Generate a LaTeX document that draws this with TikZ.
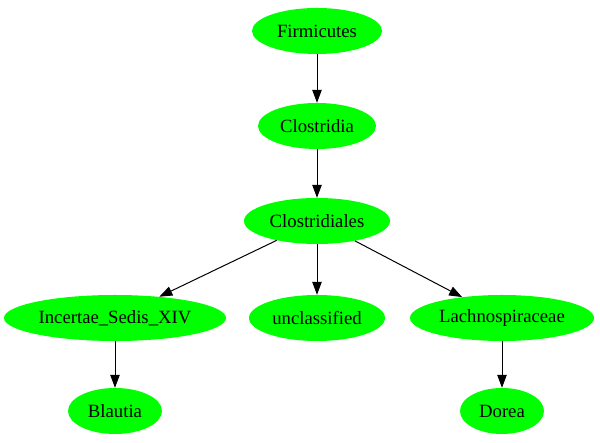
\documentclass[tikz,border=0pt]{standalone}
\usepackage{fontspec}
\setmainfont{Liberation Serif}
\usetikzlibrary{shapes.geometric,arrows.meta}
\begin{document}
\begin{tikzpicture}[x=1pt,y=1pt,
  taxon/.style={ellipse,fill={rgb,255:red,0;green,255;blue,0},draw=none,inner sep=0pt,minimum height=46pt,font=\fontsize{18.7pt}{21pt}\selectfont},
  edge/.style={draw=black,line width=1pt,-{Triangle[length=13pt,width=9.5pt]}}]
\useasboundingbox (0,0) rectangle (600,443);
\node[taxon,minimum width=130pt] (firm) at (317,412) {Firmicutes};
\node[taxon,minimum width=118pt] (clos) at (317,317) {Clostridia};
\node[taxon,minimum width=146pt] (closl) at (317,222) {Clostridiales};
\node[taxon,minimum width=222pt] (ince) at (115,125) {Incertae\_Sedis\_XIV};
\node[taxon,minimum width=136pt] (uncl) at (317,125) {unclassified};
\node[taxon,minimum width=184pt] (lach) at (502,125) {Lachnospiraceae};
\node[taxon,minimum width=94pt] (blau) at (115,32) {Blautia};
\node[taxon,minimum width=84pt] (dore) at (502,32) {Dorea};
\draw[edge] (firm) -- (clos);
\draw[edge] (clos) -- (closl);
\draw[edge] (closl) -- (ince);
\draw[edge] (closl) -- (uncl);
\draw[edge] (closl) -- (lach);
\draw[edge] (ince) -- (blau);
\draw[edge] (lach) -- (dore);
\end{tikzpicture}
\end{document}
